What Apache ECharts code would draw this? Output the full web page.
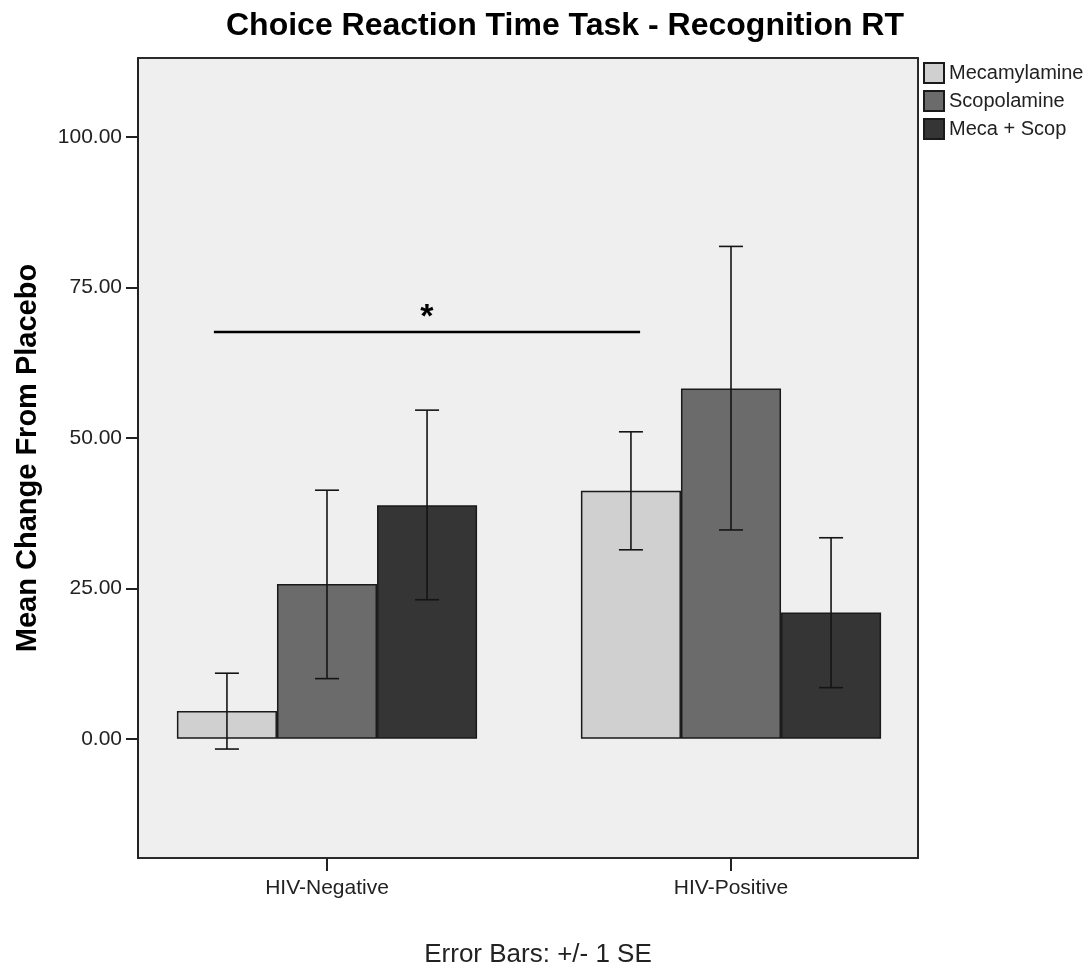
<!DOCTYPE html>
<html>
<head>
<meta charset="utf-8">
<script src="https://cdn.jsdelivr.net/npm/echarts@6/dist/echarts.min.js"></script>
<style>
  html, body { margin: 0; padding: 0; background: #fff; }
  #chart { width: 1091px; height: 970px; }
</style>
</head>
<body>
<div id="chart"></div>
<script>
// donnees
const categories = ['HIV-Negative', 'HIV-Positive'];
const drugNames = ['Mecamylamine', 'Scopolamine', 'Meca + Scop'];

const mecaMean = [4.6, 41.2];
const mecaLow = [-1.7, 31.4];
const mecaHigh = [10.9, 51.0];

const scopMean = [25.7, 58.2];
const scopLow = [10.0, 34.7];
const scopHigh = [41.3, 81.8];

const bothMean = [38.8, 21.0];
const bothLow = [23.1, 8.5];
const bothHigh = [54.6, 33.4];

const yTicks = [0, 25, 50, 75, 100];
const sigLevel = [67.6]; // hauteur du trait de significativite
const footNote = 'Error Bars: +/- 1 SE';

const FONT = '"Liberation Sans", Arial, sans-serif';
const GAP = 0.257; // barCategoryGap
const colors = ['#d0d0d0', '#6b6b6b', '#353535'];

const chartDom = document.getElementById('chart');
const chart = echarts.init(chartDom, null, { renderer: 'canvas' });

function errData(low, high) {
    return categories.map((c, i) => [i, low[i], high[i]]);
}

// barre d'erreur pour la serie k (0, 1, 2)
function errorBar(k) {
    return function (params, api) {
        const cat = api.value(0);
        const lo = api.coord([cat, api.value(1)]);
        const hi = api.coord([cat, api.value(2)]);
        const band = api.size([1, 0])[0];
        const barW = band * (1 - GAP) / 3;
        const x = lo[0] + (k - 1) * barW;
        const half = 12;
        const st = { stroke: '#151515', lineWidth: 1.6 };
        return {
            type: 'group',
            children: [
                { type: 'line', shape: { x1: x, y1: hi[1], x2: x, y2: lo[1] }, style: st },
                { type: 'line', shape: { x1: x - half, y1: hi[1], x2: x + half, y2: hi[1] }, style: st },
                { type: 'line', shape: { x1: x - half, y1: lo[1], x2: x + half, y2: lo[1] }, style: st }
            ]
        };
    };
}

const barSeries = [mecaMean, scopMean, bothMean].map((d, k) => ({
    name: drugNames[k],
    type: 'bar',
    xAxisIndex: 0,
    yAxisIndex: 0,
    barGap: '0%',
    barCategoryGap: (GAP * 100) + '%',
    itemStyle: { color: colors[k], borderColor: '#1a1a1a', borderWidth: 1.5 },
    data: d
}));

const errSeries = [[mecaLow, mecaHigh], [scopLow, scopHigh], [bothLow, bothHigh]].map((p, k) => ({
    name: drugNames[k] + ' SE',
    type: 'custom',
    xAxisIndex: 0,
    yAxisIndex: 0,
    renderItem: errorBar(k),
    encode: { x: 0, y: [1, 2] },
    silent: true,
    z: 5,
    data: errData(p[0], p[1])
}));

const sigSeries = {
    name: 'signif',
    type: 'custom',
    xAxisIndex: 0,
    yAxisIndex: 0,
    silent: true,
    z: 6,
    encode: { x: 0, y: 1 },
    data: [[0, sigLevel[0]]],
    renderItem: function (params, api) {
        const c = api.coord([api.value(0), api.value(1)]);
        const band = api.size([1, 0])[0];
        const x1 = c[0] - 0.28 * band;
        const x2 = c[0] + 0.775 * band;
        return {
            type: 'group',
            children: [
                { type: 'line', shape: { x1: x1, y1: c[1], x2: x2, y2: c[1] }, style: { stroke: '#000', lineWidth: 2.5 } },
                {
                    type: 'text',
                    style: {
                        text: '*', x: (x1 + x2) / 2, y: c[1] - 14,
                        align: 'center', verticalAlign: 'middle',
                        font: 'bold 34px ' + FONT, fill: '#000'
                    }
                }
            ]
        };
    }
};

const option = {
    animation: false,
    backgroundColor: '#ffffff',
    title: {
        text: 'Choice Reaction Time Task - Recognition RT',
        left: 560,
        textAlign: 'center',
        top: 5,
        textStyle: { fontFamily: FONT, fontWeight: 'bold', fontSize: 32, color: '#000' }
    },
    legend: {
        data: drugNames,
        orient: 'vertical',
        left: 923,
        top: 62,
        padding: 0,
        itemWidth: 20,
        itemHeight: 20,
        itemGap: 6,
        icon: 'rect',
        textStyle: { fontFamily: FONT, fontSize: 20, color: '#222' }
    },
    grid: [
        // grille des barres (centres des categories)
        { left: 125, top: 58, width: 808, height: 800, show: false },
        // cadre du graphique
        {
            left: 138, top: 58, width: 780, height: 800, show: true,
            backgroundColor: '#efefef', borderColor: '#2a2a2a', borderWidth: 2
        }
    ],
    xAxis: [
        {
            type: 'category',
            gridIndex: 0,
            data: categories,
            axisLine: { show: false, onZero: false },
            axisTick: { show: true, length: 13, alignWithLabel: true, lineStyle: { color: '#222', width: 2 } },
            axisLabel: { fontFamily: FONT, fontSize: 21, color: '#222', margin: 20 }
        },
        { type: 'value', gridIndex: 1, show: false }
    ],
    yAxis: [
        {
            type: 'value', gridIndex: 0, min: -19.8, max: 113.1, show: false,
            splitLine: { show: false }
        },
        {
            type: 'value',
            gridIndex: 1,
            min: -19.8,
            max: 113.1,
            name: 'Mean Change From Placebo',
            nameLocation: 'middle',
            nameGap: 96,
            nameTextStyle: { fontFamily: FONT, fontWeight: 'bold', fontSize: 29, color: '#000' },
            splitLine: { show: false },
            axisLine: { show: true, lineStyle: { color: '#222', width: 2 } },
            axisTick: { show: true, length: 12, customValues: yTicks, lineStyle: { color: '#222', width: 2 } },
            axisLabel: {
                customValues: yTicks,
                fontFamily: FONT, fontSize: 21, color: '#222', margin: 16,
                formatter: v => v.toFixed(2)
            }
        }
    ],
    graphic: [
        {
            type: 'text',
            x: 538,
            y: 942,
            style: { text: footNote, font: '26px ' + FONT, fill: '#222', align: 'center', verticalAlign: 'top' }
        }
    ],
    series: [...barSeries, ...errSeries, sigSeries]
};

chart.setOption(option);

window.addEventListener('resize', () => {
    chart.resize();
});
</script>
</body>
</html>
